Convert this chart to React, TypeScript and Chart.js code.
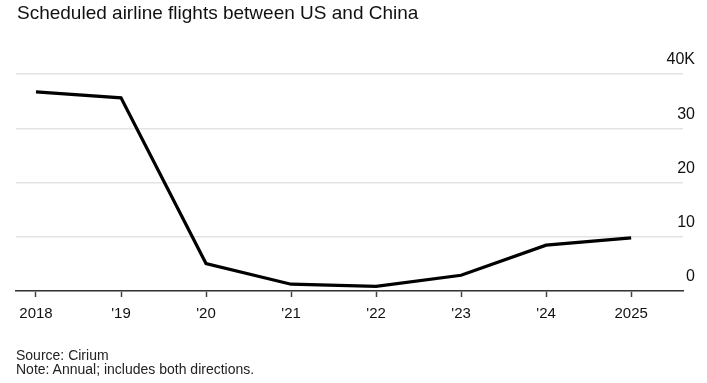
import React, { useEffect, useRef } from "react";
import { Chart, registerables } from "chart.js";

Chart.register(...registerables);

const titleText = "Scheduled airline flights between US and China";
const sourceText = "Source: Cirium";
const noteText = "Note: Annual; includes both directions.";

const years = [2018, 2019, 2020, 2021, 2022, 2023, 2024, 2025];
const xTickLabels = ["2018", "'19", "'20", "'21", "'22", "'23", "'24", "2025"];
const flights = [36700, 35600, 5050, 1250, 870, 2900, 8450, 9800];
const yTickValues = [0, 10000, 20000, 30000, 40000];
const yTickLabels = ["0", "10", "20", "30", "40K"];

const FONT = "'Liberation Sans', Arial, Helvetica, sans-serif";

export default function App() {
  const ref = useRef<HTMLCanvasElement | null>(null);

  useEffect(() => {
    if (!ref.current) return;
    const chart = new Chart(ref.current, {
      type: "line",
      data: {
        datasets: [
          {
            data: years.map((y, i) => ({ x: y, y: flights[i] })),
            borderColor: "#000000",
            borderWidth: 3.2,
            pointRadius: 0,
            tension: 0,
            borderJoinStyle: "miter",
            fill: false,
          },
        ],
      },
      options: {
        animation: false,
        responsive: false,
        maintainAspectRatio: false,
        events: [],
        layout: { padding: { left: 16, right: 12, top: 74, bottom: 62 } },
        plugins: {
          legend: { display: false },
          tooltip: { enabled: false },
          title: { display: false },
        },
        scales: {
          x: {
            type: "linear",
            min: 2017.765,
            max: 2025.61,
            afterBuildTicks: (scale: any) => {
              scale.ticks = years.map((v) => ({ value: v }));
            },
            afterFit: (scale: any) => {
              scale.height = 30;
            },
            grid: {
              display: true,
              drawOnChartArea: false,
              drawTicks: true,
              tickLength: 6,
              tickWidth: 1.5,
              tickColor: "#444444",
              color: "#444444",
            },
            border: { display: true, color: "#333333", width: 1.5 },
            ticks: {
              autoSkip: false,
              maxRotation: 0,
              padding: 8,
              color: "#111111",
              font: { family: FONT, size: 15 },
              callback: (value: any) => {
                const i = years.indexOf(Number(value));
                return i >= 0 ? xTickLabels[i] : "";
              },
            },
          },
          y: {
            type: "linear",
            position: "right",
            min: 0,
            max: 40000,
            afterBuildTicks: (scale: any) => {
              scale.ticks = yTickValues.map((v) => ({ value: v }));
            },
            afterFit: (scale: any) => {
              scale.width = 12;
            },
            grid: {
              display: true,
              drawTicks: false,
              color: "#e3e3e3",
              lineWidth: 1.5,
            },
            border: { display: false },
            ticks: {
              mirror: true,
              crossAlign: "near",
              padding: 12,
              labelOffset: -14,
              color: "#111111",
              font: { family: FONT, size: 16 },
              callback: (value: any) => {
                const i = yTickValues.indexOf(Number(value));
                return i >= 0 ? yTickLabels[i] : "";
              },
            },
          },
        },
      },
    });
    return () => chart.destroy();
  }, []);

  return (
    <div
      style={{
        position: "absolute",
        left: 0,
        top: 0,
        width: 707,
        height: 383,
        background: "#ffffff",
        fontFamily: FONT,
        overflow: "hidden",
      }}
    >
      <canvas
        ref={ref}
        width={707}
        height={383}
        style={{ position: "absolute", left: 0, top: 0, width: 707, height: 383 }}
      />
      <div
        style={{
          position: "absolute",
          left: 17,
          top: 1.5,
          fontSize: 19,
          lineHeight: "22px",
          color: "#111111",
          whiteSpace: "nowrap",
        }}
      >
        {titleText}
      </div>
      <div
        style={{
          position: "absolute",
          left: 16,
          top: 347.5,
          fontSize: 14,
          lineHeight: "14px",
          color: "#222222",
          whiteSpace: "nowrap",
        }}
      >
        <div>{sourceText}</div>
        <div>{noteText}</div>
      </div>
    </div>
  );
}
